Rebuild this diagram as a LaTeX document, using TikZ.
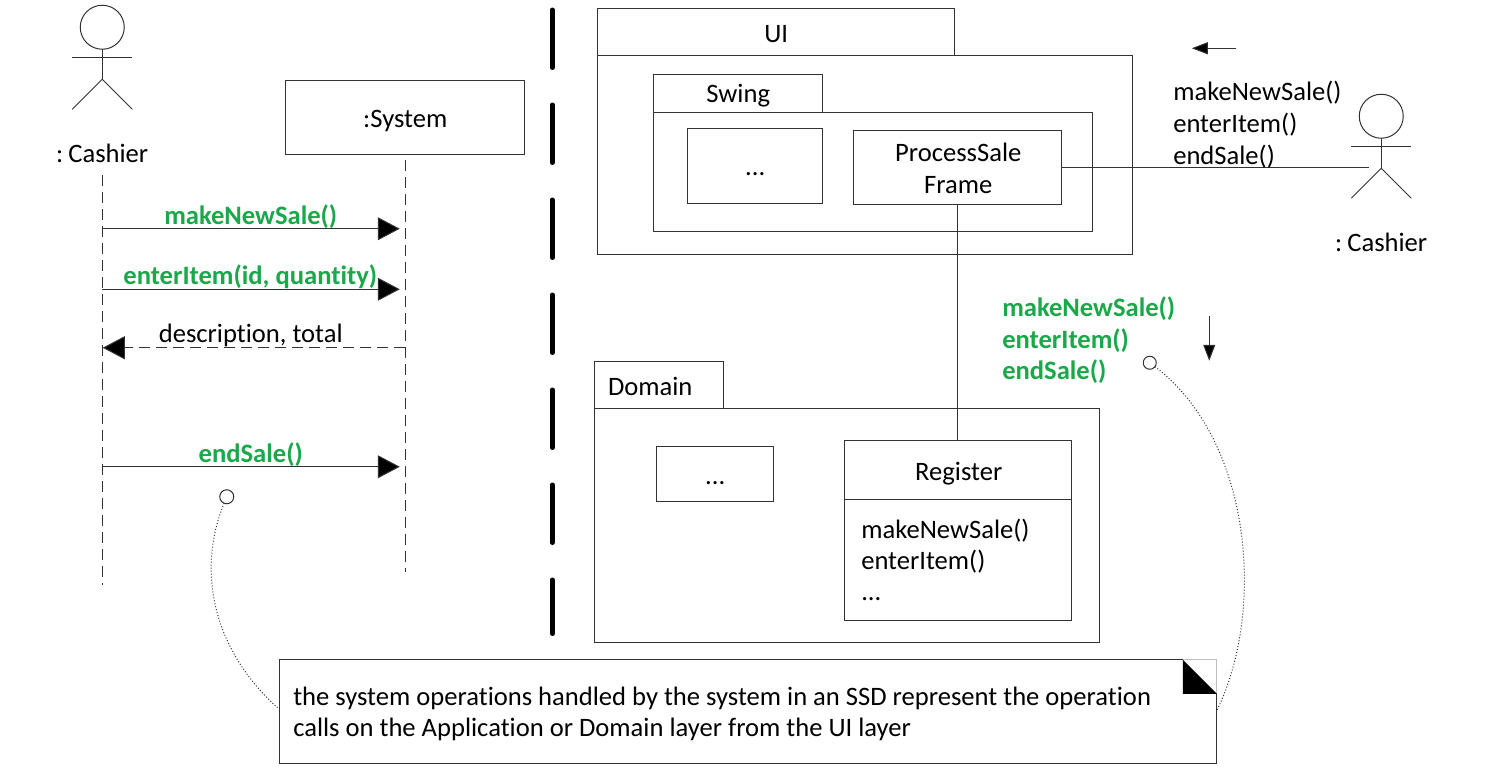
\documentclass[tikz,border=0pt]{standalone}
\usepackage{fontspec}
\setmainfont{Carlito}[RawFeature={-liga;-clig;-dlig}]
\usetikzlibrary{arrows.meta,calc}
\definecolor{umlgreen}{RGB}{26,168,74}
\definecolor{umlline}{RGB}{50,50,50}
\tikzset{
  x=1pt,y=-1pt,
  every node/.style={font=\fontsize{26.6}{32}\selectfont,text=black,inner sep=0pt,outer sep=0pt},
  umlbox/.style={draw=umlline,line width=1pt,fill=white,rectangle},
  lbl/.style={anchor=base,xshift=.25pt,yshift=-.25pt},
  txt/.style={anchor=base west,xshift=.25pt,yshift=-.25pt},
  gtxt/.style={anchor=base west,xshift=.25pt,yshift=-.25pt,text=umlgreen,font=\fontsize{26.6}{32}\selectfont\bfseries},
  gmsg/.style={anchor=base,xshift=.25pt,yshift=-.25pt,text=umlgreen,font=\fontsize{26.6}{32}\selectfont\bfseries},
  lifeline/.style={draw=umlline,line width=1pt,dash pattern=on 11pt off 6pt},
  msgline/.style={draw=umlline,line width=1pt,-{Triangle[length=22pt,width=23pt,fill=black]}},
  retline/.style={draw=umlline,line width=1pt,dash pattern=on 11pt off 6pt,-{Triangle[length=22pt,width=23pt,fill=black]}},
  dirarrow/.style={draw=umlline,line width=1pt,-{Triangle[length=16pt,width=12pt,fill=black]}},
  assoc/.style={draw=umlline,line width=1pt},
  layerbar/.style={draw=black,line width=4.5pt,line cap=round,dash pattern=on 58pt off 37pt},
  notelink/.style={draw=umlline,line width=1pt,dotted},
  anchorball/.style={draw=umlline,line width=1pt,fill=white,circle,minimum size=13pt},
  figure/.style={draw=umlline,line width=1pt},
}
\newcommand{\stickman}[2]{%
  \draw[figure] (#1,#2) circle (22pt);
  \draw[figure] (#1,#2+22) -- (#1,#2+52);
  \draw[figure] (#1-30,#2+30) -- (#1+30,#2+30);
  \draw[figure] (#1-30,#2+82) -- (#1,#2+52) -- (#1+30,#2+82);
}
\begin{document}
\begin{tikzpicture}
\useasboundingbox (0.25,0.25) rectangle (1485.25,771.25);

% layer separator
\coordinate (barTop) at (552.5,10);
\coordinate (barBot) at (552.5,634);
\draw[layerbar] (barTop) -- (barBot);

% left actor and SSD
\stickman{102.5}{27.5}
\node[lbl] (cashierA) at (102.25,162.5) {:\kern-3pt{} Cashier};
\node[umlbox,minimum width=239pt,minimum height=74pt] (system) at (405.5,118) {};
\node[lbl] (systemName) at (405.25,127.5) {:System};
\coordinate (llAtop) at (102.5,175);
\coordinate (llAbot) at (102.5,585);
\coordinate (llBtop) at (405.5,160);
\coordinate (llBbot) at (405.5,572);
\draw[lifeline] (llAtop) -- (llAbot);
\draw[lifeline] (llBtop) -- (llBbot);

\coordinate (m1a) at (102.5,229); \coordinate (m1b) at (400,229);
\coordinate (m2a) at (102.5,289.5); \coordinate (m2b) at (400,289.5);
\coordinate (m3a) at (405.5,348); \coordinate (m3b) at (103,348);
\coordinate (m4a) at (102.5,467); \coordinate (m4b) at (400,467);
\draw[msgline] (m1a) -- (m1b);
\draw[msgline] (m2a) -- (m2b);
\draw[retline] (m3a) -- (m3b);
\draw[msgline] (m4a) -- (m4b);
\node[gmsg] (l1) at (250.75,224.5) {makeNewSale()};
\node[gmsg] (l2) at (250.25,284) {enterItem(id, quantity)};
\node[lbl] (l3) at (250.75,342.5) {description, total};
\node[gmsg] (l4) at (250.75,462) {endSale()};

% UI package
\node[umlbox,minimum width=357pt,minimum height=47pt] (uiTab) at (776.5,32.5) {};
\node[lbl] (uiName) at (776.25,42) {UI};
\node[umlbox,minimum width=535pt,minimum height=199pt] (uiBody) at (865.5,155.5) {};
\node[umlbox,minimum width=169pt,minimum height=38pt] (swingTab) at (738.5,94) {};
\node[lbl] (swingName) at (738.25,102.5) {Swing};
\node[umlbox,minimum width=439pt,minimum height=119pt] (swingBody) at (873.5,172.5) {};
\node[umlbox,minimum width=135pt,minimum height=75pt] (dotsA) at (755.5,166.5) {};
\node[lbl] (dotsAText) at (755.25,175) {...};
\node[umlbox,minimum width=208pt,minimum height=74pt] (psf) at (958,168) {};
\node[lbl] (psf1) at (958.25,161) {ProcessSale};
\node[lbl] (psf2) at (958.25,193) {Frame};

% Domain package
\node[umlbox,minimum width=129pt,minimum height=47pt] (domTab) at (659.5,385.5) {};
\node[lbl] (domName) at (650.25,395) {Domain};
\node[umlbox,minimum width=505pt,minimum height=234pt] (domBody) at (847.5,526) {};
\node[umlbox,minimum width=117pt,minimum height=55pt] (dotsB) at (715.5,474.5) {};
\node[lbl] (dotsBText) at (715.25,484) {...};
\node[umlbox,minimum width=227pt,minimum height=180pt] (reg) at (958.5,531) {};
\coordinate (regL) at (845,499.5);
\coordinate (regR) at (1072,499.5);
\draw[assoc] (regL) -- (regR);
\node[lbl] (regName) at (958.75,480) {Register};
\node[txt] (regOp1) at (861.25,538) {makeNewSale()};
\node[txt] (regOp2) at (861.25,569.5) {enterItem()};
\node[txt] (regOp3) at (861.25,600) {...};

% right actor
\stickman{1381.5}{116.5}
\node[lbl] (cashierB) at (1381.25,251) {:\kern-3pt{} Cashier};
\coordinate (actorB) at (1369,167.5);
\draw[assoc] (psf.east |- actorB) -- (actorB);
\draw[assoc] (psf.south) -- (reg.north -| psf.south);

\node[txt] (opsB1) at (1173.25,100.5) {makeNewSale()};
\node[txt] (opsB2) at (1173.25,132) {enterItem()};
\node[txt] (opsB3) at (1173.25,164) {endSale()};
\node[gtxt] (opsC1) at (1002.25,316) {makeNewSale()};
\node[gtxt] (opsC2) at (1002.25,348) {enterItem()};
\node[gtxt] (opsC3) at (1002.25,379) {endSale()};
\coordinate (dir1a) at (1236.5,48.5); \coordinate (dir1b) at (1192,48.5);
\coordinate (dir2a) at (1209.5,316); \coordinate (dir2b) at (1209.5,361);
\draw[dirarrow] (dir1a) -- (dir1b);
\draw[dirarrow] (dir2a) -- (dir2b);

% note
\node[draw=umlline,line width=1pt,fill=white,minimum width=937pt,minimum height=104pt] (note) at (748.5,712) {};
\node[txt] (note1) at (293.25,705) {the system operations handled by the system in an SSD represent the operation};
\node[txt] (note2) at (293.25,736) {calls on the Application or Domain layer from the UI layer};
\coordinate (foldA) at (1183,660);
\coordinate (foldB) at (1217,694);
\coordinate (foldC) at (1183,694);
\draw[white,line width=1.2pt] (foldA) -- (note.north east) -- (foldB);
\draw[draw=black!25,line width=1pt] (foldA) -- (note.north east) -- (foldB);
\fill[black] (foldA) -- (foldB) -- (foldC) -- cycle;

\node[anchorball,minimum size=14pt] (ballL) at (227,497) {};
\node[anchorball] (ballR) at (1150,363) {};
\coordinate (noteL) at (280,710);
\coordinate (noteR) at (1217.5,710);
\draw[notelink] (ballL) .. controls (197,570) and (212,650) .. (noteL);
\draw[notelink] (ballR) .. controls (1252,440) and (1266,610) .. (noteR);
\end{tikzpicture}
\end{document}
